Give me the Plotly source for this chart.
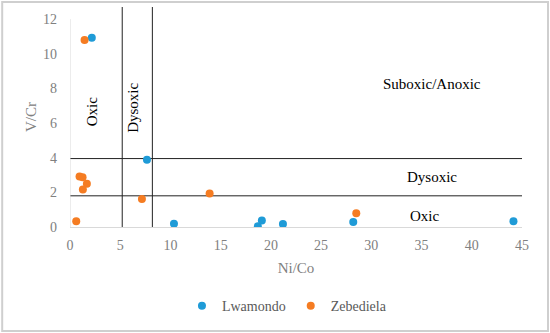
import plotly.graph_objects as go

# Data
lw_x = [2.17, 7.66, 10.35, 18.7, 19.1, 21.2, 28.2, 44.15]
lw_y = [10.92, 3.88, 0.19, 0.05, 0.37, 0.17, 0.29, 0.33]
ze_x = [1.45, 0.95, 1.25, 1.68, 1.28, 7.16, 0.62, 13.9, 28.5]
ze_y = [10.8, 2.92, 2.87, 2.49, 2.16, 1.62, 0.33, 1.93, 0.79]

v_lines = [5.2, 8.2]
h_lines = [3.95, 1.8]

x_ticks = [0, 5, 10, 15, 20, 25, 30, 35, 40, 45]
y_ticks = [0, 2, 4, 6, 8, 10, 12]

labels = [
    ("Oxic", 2.27, 6.67, -90),
    ("Dysoxic", 6.26, 6.87, -90),
    ("Suboxic/Anoxic", 36.0, 8.27, 0),
    ("Dysoxic", 36.0, 2.88, 0),
    ("Oxic", 35.3, 0.65, 0),
]

FONT = "Liberation Serif"
BLUE = "#1F9BD7"
ORANGE = "#F57C22"
GRAY = "#808080"

fig = go.Figure()
fig.add_trace(go.Scatter(x=lw_x, y=lw_y, mode="markers", name="Lwamondo",
                         marker=dict(color=BLUE, size=8)))
fig.add_trace(go.Scatter(x=ze_x, y=ze_y, mode="markers", name="Zebediela",
                         marker=dict(color=ORANGE, size=8)))

shapes = []
for xv in v_lines:
    shapes.append(dict(type="line", xref="x", yref="y", x0=xv, x1=xv, y0=0, y1=12.7,
                       line=dict(color="#222222", width=1), layer="below"))
for yv in h_lines:
    shapes.append(dict(type="line", xref="x", yref="y", x0=0, x1=45, y0=yv, y1=yv,
                       line=dict(color="#222222", width=1), layer="below"))
# y-axis line up to 12
shapes.append(dict(type="line", xref="x", yref="y", x0=0, x1=0, y0=0, y1=12,
                   line=dict(color="#D9D9D9", width=1), layer="below"))
# outer border
shapes.append(dict(type="rect", xref="paper", yref="paper",
                   x0=-0.150, x1=1.0575, y0=-0.473, y1=1.023,
                   line=dict(color="#CFCFCF", width=2)))

annotations = []
for text, ax, ay, rot in labels:
    annotations.append(dict(text=text, x=ax, y=ay, xref="x", yref="y", showarrow=False,
                            textangle=rot, font=dict(family=FONT, size=15, color="#000000")))

fig.update_layout(
    width=550, height=333,
    margin=dict(l=70, r=28, t=7, b=106, autoexpand=False),
    paper_bgcolor="white", plot_bgcolor="white",
    font=dict(family=FONT, color=GRAY, size=13),
    shapes=shapes, annotations=annotations,
    showlegend=True,
    legend=dict(orientation="h", x=0.48, xanchor="center", y=-0.36, yanchor="middle",
                font=dict(family=FONT, size=14, color="#595959")),
    xaxis=dict(range=[0, 45], tickvals=x_ticks, showgrid=False, zeroline=False,
               showline=True, linecolor="#D9D9D9", linewidth=1, ticks="",
               ticklabelstandoff=5,
               tickfont=dict(family=FONT, size=14, color=GRAY),
               title=dict(text="Ni/Co", font=dict(family=FONT, size=15, color=GRAY), standoff=10)),
    yaxis=dict(range=[0, 12.7], tickvals=y_ticks, showgrid=False, zeroline=False,
               showline=False, ticks="",
               ticklabelstandoff=12,
               tickfont=dict(family=FONT, size=14, color=GRAY),
               title=dict(text="V/Cr", font=dict(family=FONT, size=15, color=GRAY), standoff=2)),
)

fig.write_html("out.html", config={"displayModeBar": False},
               post_script="document.body.style.margin='0';")
